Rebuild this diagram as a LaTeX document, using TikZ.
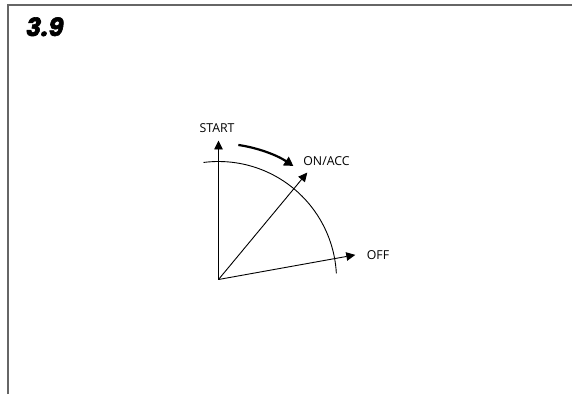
\documentclass[tikz,border=0pt]{standalone}
\usepackage{fontspec}
\setmainfont{Open Sans}
\newfontfamily\titlefont{Poppins}[BoldItalicFeatures={FakeBold=2.5}]
\usetikzlibrary{arrows.meta,calc}
\begin{document}
\begin{tikzpicture}[x=1pt,y=1pt,
  framestyle/.style={draw=black!60, line width=1.4pt},
  axisarrow/.style={line width=0.9pt, -{Triangle[length=9pt,width=8.5pt]}},
  turnarrow/.style={line width=2.2pt, -{Triangle[length=9pt,width=10pt]}},
  lbl/.style={font=\fontsize{12.3}{14}\selectfont, inner sep=0pt}]
\useasboundingbox (0,0) rectangle (572,394);
\draw[framestyle] (8,0) -- (8,389) -- (572,389);
\node[anchor=base west, inner sep=0pt, font=\titlefont\bfseries\itshape\fontsize{25}{28}\selectfont] (title) at (26,358) {3.9};
\coordinate (O) at (218.5,114.5);
\coordinate (tstart) at ($(O)+(90:139)$);
\coordinate (ton) at ($(O)+(50.3:139)$);
\coordinate (toff) at ($(O)+(10.2:139)$);
\coordinate (arcbeg) at ($(O)+(97.3:118)$);
\coordinate (turnbeg) at ($(O)+(81.6:136)$);
% quarter arc
\draw[line width=0.9pt] (arcbeg) arc[start angle=97.3, end angle=3, radius=118];
% pointer arrows
\draw[axisarrow] (O) -- (tstart);
\draw[axisarrow] (O) -- (ton);
\draw[axisarrow] (O) -- (toff);
% turning arrow
\draw[turnarrow] (turnbeg) arc[start angle=81.6, end angle=56.6, radius=136];
% labels
\node[lbl] (lstart) at (217,265.5) {START};
\node[lbl] (lon) at (326.5,233) {ON/ACC};
\node[lbl] (loff) at (378,139) {OFF};
\end{tikzpicture}
\end{document}
